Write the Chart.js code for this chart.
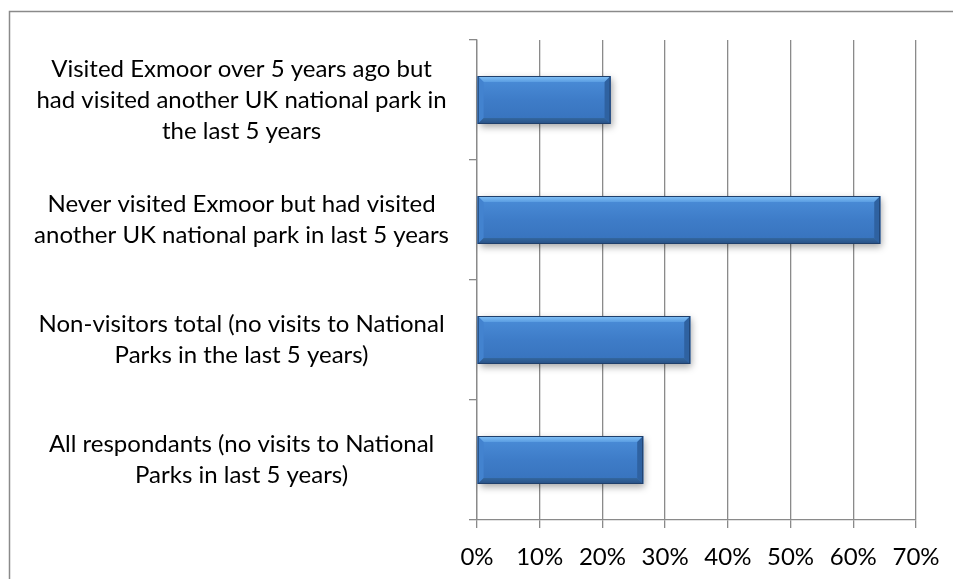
<!DOCTYPE html>
<html>
<head>
<meta charset="utf-8">
<script src="https://cdn.jsdelivr.net/npm/chart.js@4/dist/chart.umd.min.js"></script>
<style>
  html, body { margin: 0; padding: 0; background: #fff; }
  #wrap { width: 953px; height: 579px; position: relative; }
</style>
</head>
<body>
<div id="wrap"><canvas id="visitsChart"></canvas></div>
<script>
// data
const categories = [
    ['Visited Exmoor over 5 years ago but', 'had visited another UK national park in', 'the last 5 years'],
    ['Never visited Exmoor but had visited', 'another UK national park in last 5 years'],
    ['Non-visitors total (no visits to National', 'Parks in the last 5 years)'],
    ['All respondants (no visits to National', 'Parks in last 5 years)']
];
const percentValues = [21.3, 64.3, 34.0, 26.5];
const xTicks = [0, 10, 20, 30, 40, 50, 60, 70];

const gridGrey = '#8a8a8a';
const fontFamily = 'Lato, "Liberation Sans", sans-serif';

/*////////////////////////////// frame + bevelled bars //////////////////////////////////*/

const framePlugin = {
    id: 'frame',
    beforeDraw(chart) {
        const ctx = chart.ctx;
        ctx.save();
        ctx.fillStyle = '#fff';
        ctx.fillRect(0, 0, chart.width, chart.height);
        ctx.strokeStyle = gridGrey;
        ctx.lineWidth = 1.5;
        ctx.strokeRect(9.5, 11.5, chart.width + 20, chart.height + 20);
        ctx.restore();
    }
};

function poly(ctx, pts, fill) {
    ctx.beginPath();
    ctx.moveTo(pts[0][0], pts[0][1]);
    for (let i = 1; i < pts.length; i++) ctx.lineTo(pts[i][0], pts[i][1]);
    ctx.closePath();
    ctx.fillStyle = fill;
    ctx.fill();
}

const bevelPlugin = {
    id: 'bevel',
    afterDatasetsDraw(chart) {
        const ctx = chart.ctx;
        const meta = chart.getDatasetMeta(0);
        meta.data.forEach(bar => {
            const p = bar.getProps(['x', 'y', 'base', 'height'], true);
            const x0 = p.base, x1 = p.x;
            const yT = p.y - p.height / 2, yB = p.y + p.height / 2;
            const w = x1 - x0, h = yB - yT, b = 6;

            ctx.save();
            ctx.shadowColor = 'rgba(0,0,0,0.35)';
            ctx.shadowBlur = 7;
            ctx.shadowOffsetX = 2;
            ctx.shadowOffsetY = 3;
            ctx.fillStyle = '#3b78c3';
            ctx.fillRect(x0, yT, w, h);
            ctx.restore();

            ctx.save();
            const g = ctx.createLinearGradient(0, yT, 0, yB);
            g.addColorStop(0, '#4b8ed9');
            g.addColorStop(0.5, '#3e7cc8');
            g.addColorStop(1, '#3772bc');
            ctx.fillStyle = g;
            ctx.fillRect(x0, yT, w, h);

            const tg = ctx.createLinearGradient(0, yT, 0, yT + b);
            tg.addColorStop(0, '#84c2f6');
            tg.addColorStop(1, '#5a9de2');
            poly(ctx, [[x0, yT], [x1, yT], [x1 - b, yT + b], [x0 + b, yT + b]], tg);
            poly(ctx, [[x0, yT], [x0 + b, yT + b], [x0 + b, yB - b], [x0, yB]], '#4383cf');
            poly(ctx, [[x1, yT], [x1, yB], [x1 - b, yB - b], [x1 - b, yT + b]], '#2f62a1');
            const bg = ctx.createLinearGradient(0, yB - b, 0, yB);
            bg.addColorStop(0, '#33679f');
            bg.addColorStop(1, '#284f84');
            poly(ctx, [[x0, yB], [x0 + b, yB - b], [x1 - b, yB - b], [x1, yB]], bg);

            ctx.strokeStyle = '#1f3f6b';
            ctx.lineWidth = 1;
            ctx.strokeRect(x0 + 0.5, yT + 0.5, w - 1, h - 1);
            ctx.restore();
        });
    }
};

/*////////////////////////////// chart //////////////////////////////////*/

const ctx = document.getElementById('visitsChart').getContext('2d');
new Chart(ctx, {
    type: 'bar',
    data: {
        labels: categories,
        datasets: [{
            data: percentValues,
            backgroundColor: 'rgba(0,0,0,0)',
            borderWidth: 0,
            categoryPercentage: 1,
            barPercentage: 0.4
        }]
    },
    options: {
        indexAxis: 'y',
        responsive: true,
        maintainAspectRatio: false,
        animation: false,
        layout: { padding: { left: 10, top: 40, right: 37, bottom: 0 } },
        plugins: {
            legend: { display: false },
            tooltip: { enabled: false }
        },
        scales: {
            x: {
                min: 0,
                max: 70,
                afterBuildTicks(scale) {
                    scale.ticks = xTicks.map(v => ({ value: v }));
                },
                afterFit(scale) {
                    scale.height = 59;
                    scale.paddingLeft = 0;
                    scale.paddingRight = 0;
                },
                grid: { color: gridGrey, lineWidth: 1.3, tickLength: 8 },
                border: { color: gridGrey, width: 1.3 },
                ticks: {
                    color: '#000',
                    padding: 15,
                    font: { family: fontFamily, size: 24, lineHeight: 1.2 },
                    callback: v => v + '%'
                }
            },
            y: {
                afterFit(scale) {
                    scale.width = 477 - 10;
                    scale.paddingTop = 0;
                    scale.paddingBottom = 0;
                },
                grid: { drawOnChartArea: false, color: gridGrey, lineWidth: 1.3, tickLength: 8, offset: true },
                border: { color: gridGrey, width: 1.3 },
                ticks: {
                    color: '#000',
                    crossAlign: 'center',
                    padding: 20,
                    font: { family: fontFamily, size: 24, lineHeight: 1.3 }
                }
            }
        }
    },
    plugins: [framePlugin, bevelPlugin]
});
</script>
</body>
</html>
